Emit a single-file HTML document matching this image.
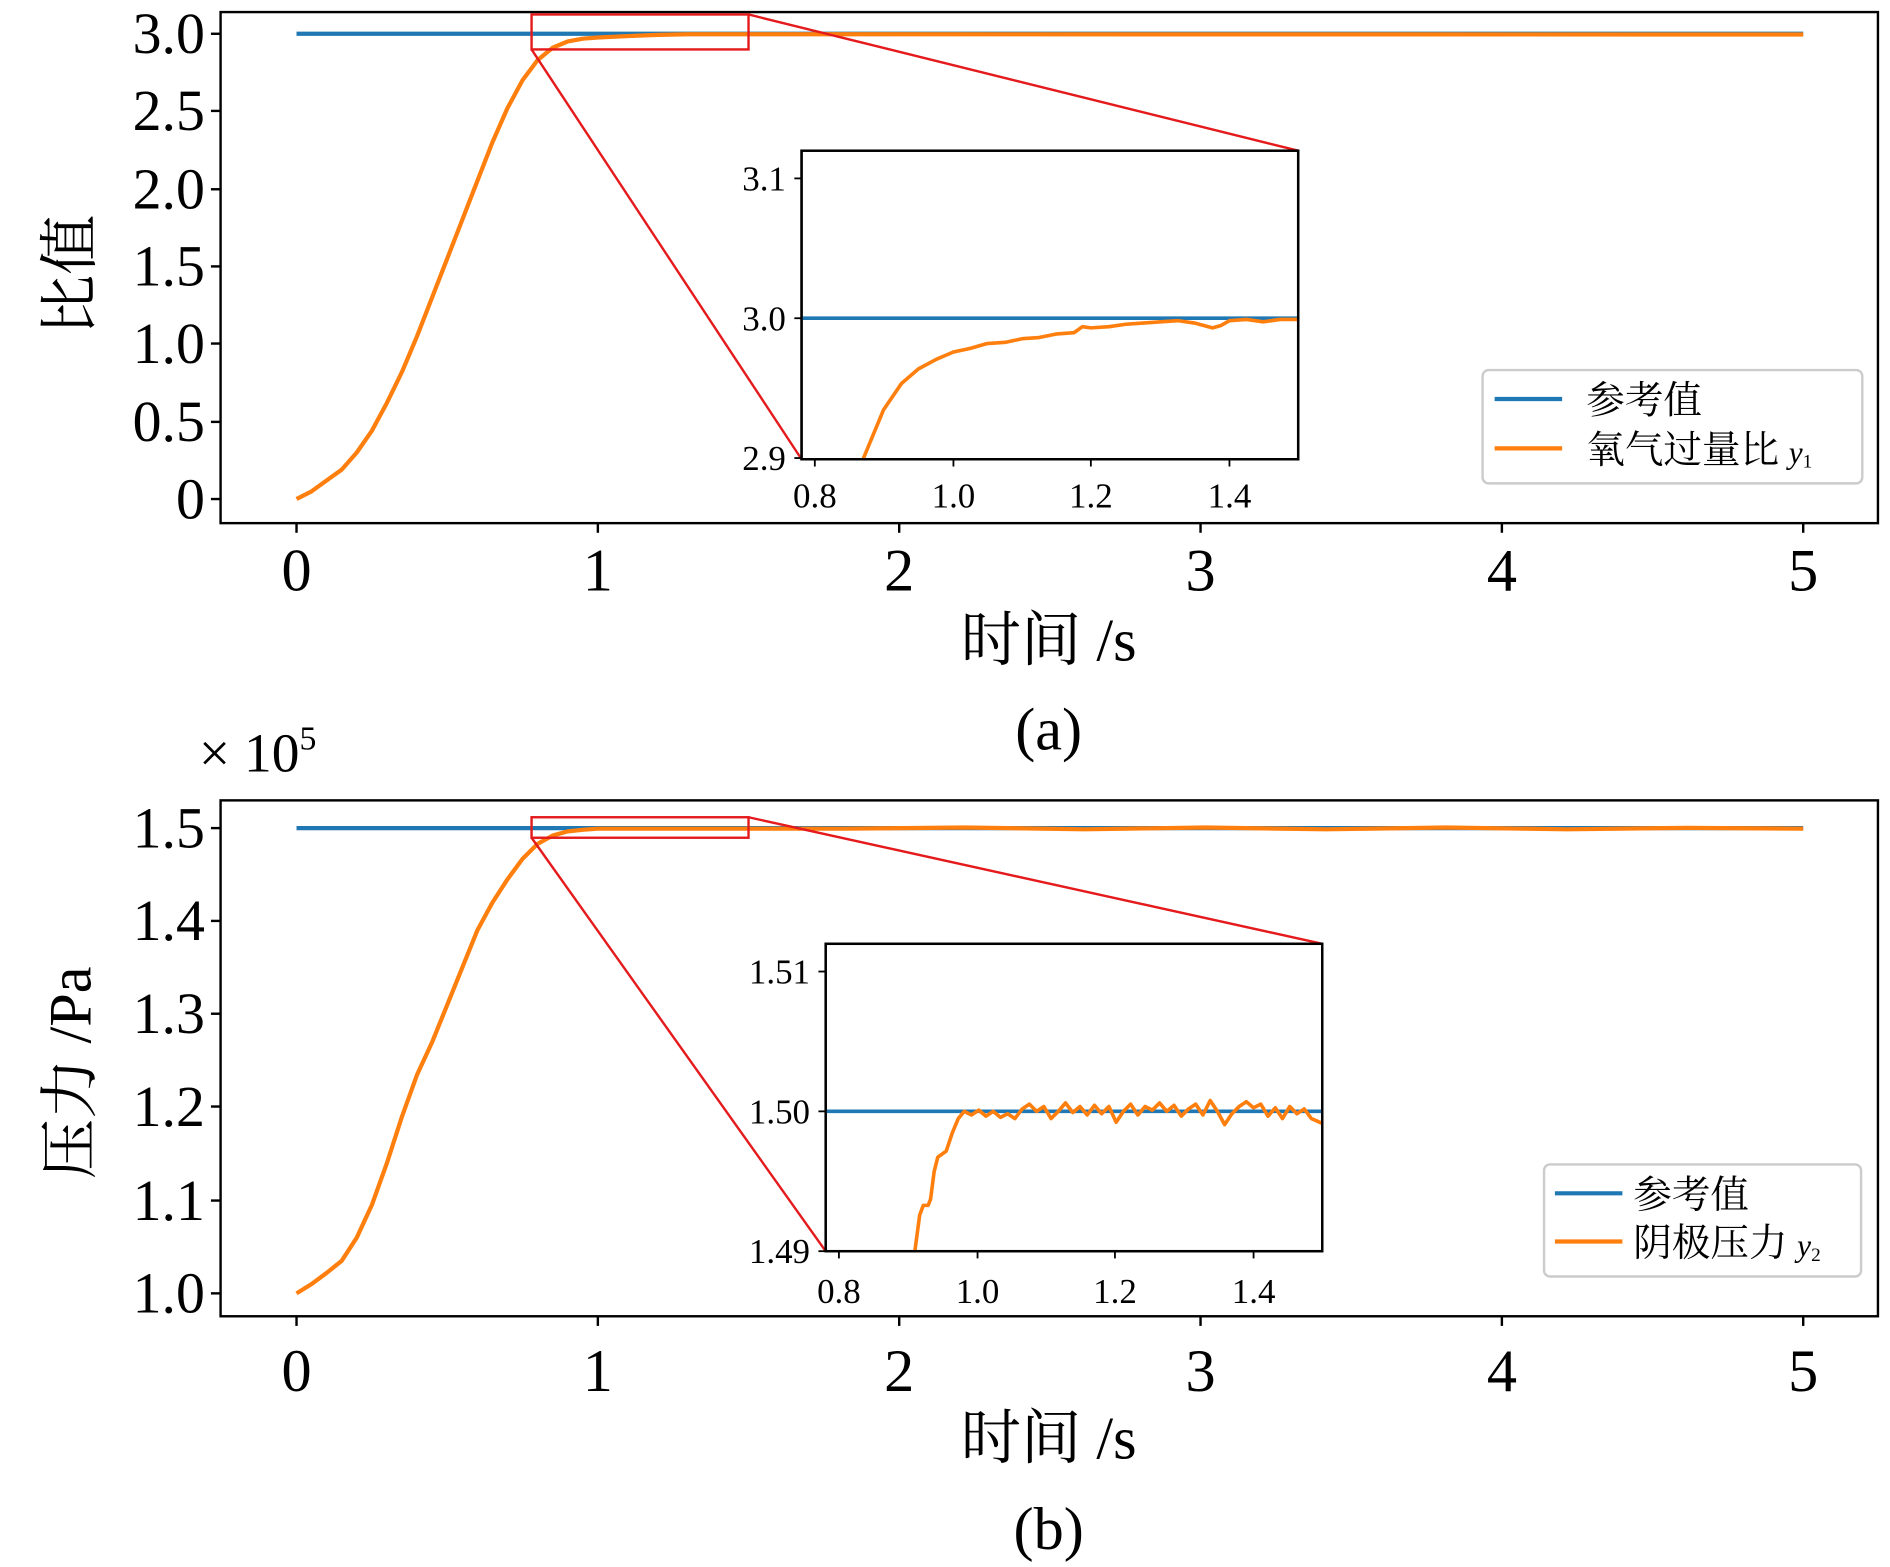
<!DOCTYPE html>
<html><head><meta charset="utf-8"><style>
html,body{margin:0;padding:0;background:#fff;}
svg{display:block;}
text{font-family:"Liberation Serif","Noto Serif CJK SC",serif;fill:#000;}
</style></head><body>
<svg width="1890" height="1567" viewBox="0 0 1568 1300" xmlns="http://www.w3.org/2000/svg">
<rect width="1568" height="1300" fill="#fff"/>
<!-- TOP PANEL -->
<line x1="246" y1="28" x2="1496" y2="28" stroke="#1f77b4" stroke-width="3.5"/>
<path fill="none" stroke="#ff7f0e" stroke-width="3.5" stroke-linejoin="round" d="M246,414 L258.5,407.6 L271,398.6 L283.5,389.6 L296,375.4 L308.5,357.4 L321,334.2 L333.5,308.5 L346,278.9 L358.5,246.7 L371,214.6 L383.5,182.4 L396,150.2 L408.5,118.1 L421,89.7 L433.5,66.6 L446,49.9 L458.5,39.6 L471,34.4 L483.5,32.1 L496,31.1 L521,29.9 L546,28.9 L571,28.4 L1496,28.6"/>
<rect x="183" y="10" width="1375" height="424" fill="none" stroke="#000" stroke-width="2"/>
<rect x="441" y="12" width="180" height="29" fill="none" stroke="#e41a1c" stroke-width="2"/>
<line x1="441" y1="41" x2="665" y2="381" stroke="#e41a1c" stroke-width="2"/>
<line x1="621" y1="12" x2="1077" y2="125" stroke="#e41a1c" stroke-width="2"/>
<g font-size="48" text-anchor="end">
<text x="170" y="44">3.0</text><text x="170" y="108">2.5</text><text x="170" y="173">2.0</text>
<text x="170" y="237">1.5</text><text x="170" y="301">1.0</text><text x="170" y="366">0.5</text><text x="170" y="430">0</text>
</g>
<g stroke="#000" stroke-width="2">
<line x1="175" y1="28" x2="183" y2="28"/><line x1="175" y1="92" x2="183" y2="92"/><line x1="175" y1="157" x2="183" y2="157"/>
<line x1="175" y1="221" x2="183" y2="221"/><line x1="175" y1="285" x2="183" y2="285"/><line x1="175" y1="350" x2="183" y2="350"/><line x1="175" y1="414" x2="183" y2="414"/>
<line x1="246" y1="434" x2="246" y2="442"/><line x1="496" y1="434" x2="496" y2="442"/><line x1="746" y1="434" x2="746" y2="442"/>
<line x1="996" y1="434" x2="996" y2="442"/><line x1="1246" y1="434" x2="1246" y2="442"/><line x1="1496" y1="434" x2="1496" y2="442"/>
</g>
<g font-size="50" text-anchor="middle">
<text x="246" y="490">0</text><text x="496" y="490">1</text><text x="746" y="490">2</text><text x="996" y="490">3</text><text x="1246" y="490">4</text><text x="1496" y="490">5</text>
</g>
<text x="870" y="548" font-size="50" text-anchor="middle">时间 /s</text>
<text x="870" y="622" font-size="50" text-anchor="middle">(a)</text>
<text transform="translate(75,228) rotate(-90)" font-size="50" text-anchor="middle">比值</text>
<!-- inset top -->
<rect x="665" y="125" width="412" height="256" fill="#fff" stroke="#000" stroke-width="2"/>
<line x1="665" y1="264" x2="1077" y2="264" stroke="#1f77b4" stroke-width="3"/>
<path fill="none" stroke="#ff7f0e" stroke-width="3" stroke-linejoin="round" d="M716,381 L733,340 L748,318 L762,306 L777,298 L791,292 L805,289 L819,285 L834,284 L848,281 L862,280 L877,277 L891,276 L898,271 L905,272 L920,271 L934,269 L948,268 L963,267 L977,266 L991,268 L1006,272 L1013,270 L1020,266 L1034,265 L1048,267 L1062,265 L1077,265"/>
<rect x="665" y="125" width="412" height="256" fill="none" stroke="#000" stroke-width="2"/>
<g stroke="#000" stroke-width="1.5">
<line x1="659" y1="148" x2="665" y2="148"/><line x1="659" y1="264" x2="665" y2="264"/><line x1="659" y1="380" x2="665" y2="380"/>
<line x1="676" y1="381" x2="676" y2="387"/><line x1="791" y1="381" x2="791" y2="387"/><line x1="905" y1="381" x2="905" y2="387"/><line x1="1020" y1="381" x2="1020" y2="387"/>
</g>
<g font-size="29" text-anchor="end"><text x="652" y="158">3.1</text><text x="652" y="274">3.0</text><text x="652" y="390">2.9</text></g>
<g font-size="29" text-anchor="middle"><text x="676" y="421">0.8</text><text x="791" y="421">1.0</text><text x="905" y="421">1.2</text><text x="1020" y="421">1.4</text></g>
<rect x="1230" y="307" width="315" height="94" rx="5" fill="#fff" stroke="#ccc" stroke-width="2"/>
<line x1="1240" y1="331" x2="1296" y2="331" stroke="#1f77b4" stroke-width="3.5"/>
<line x1="1240" y1="372" x2="1296" y2="372" stroke="#ff7f0e" stroke-width="3.5"/>
<text x="1316" y="343" font-size="32">参考值</text>
<text x="1316" y="384" font-size="32">氧气过量比 <tspan font-style="italic" font-size="26">y</tspan><tspan font-size="16" dy="4">1</tspan></text>
<!-- BOTTOM PANEL -->
<line x1="246" y1="687" x2="1496" y2="687" stroke="#1f77b4" stroke-width="3.5"/>
<path fill="none" stroke="#ff7f0e" stroke-width="3.5" stroke-linejoin="round" d="M246,1073 L258.5,1065.3 L271,1056 L283.5,1046 L296,1026.7 L308.5,999.7 L321,964.9 L333.5,926.3 L346,891.6 L358.5,864.6 L371,833.7 L383.5,802.8 L396,771.9 L408.5,748.8 L421,729.5 L433.5,712.5 L446,700.1 L458.5,693.2 L471,689.7 L483.5,688.4 L496,687.5 L700,687.5 L800,686.5 L900,688 L1000,686.5 L1100,688 L1200,686.5 L1300,688 L1400,686.8 L1496,687.5"/>
<rect x="183" y="664" width="1375" height="428" fill="none" stroke="#000" stroke-width="2"/>
<rect x="441" y="678" width="180" height="17" fill="none" stroke="#e41a1c" stroke-width="2"/>
<line x1="441" y1="695" x2="685" y2="1038" stroke="#e41a1c" stroke-width="2"/>
<line x1="621" y1="678" x2="1097" y2="783" stroke="#e41a1c" stroke-width="2"/>
<text x="165" y="640" font-size="46">× 10<tspan font-size="28" dy="-18">5</tspan></text>
<g font-size="48" text-anchor="end">
<text x="170" y="703">1.5</text><text x="170" y="780">1.4</text><text x="170" y="857">1.3</text><text x="170" y="934">1.2</text>
<text x="170" y="1012">1.1</text><text x="170" y="1089">1.0</text>
</g>
<g stroke="#000" stroke-width="2">
<line x1="175" y1="687" x2="183" y2="687"/><line x1="175" y1="764" x2="183" y2="764"/><line x1="175" y1="841" x2="183" y2="841"/>
<line x1="175" y1="918" x2="183" y2="918"/><line x1="175" y1="996" x2="183" y2="996"/><line x1="175" y1="1073" x2="183" y2="1073"/>
<line x1="246" y1="1092" x2="246" y2="1100"/><line x1="496" y1="1092" x2="496" y2="1100"/><line x1="746" y1="1092" x2="746" y2="1100"/>
<line x1="996" y1="1092" x2="996" y2="1100"/><line x1="1246" y1="1092" x2="1246" y2="1100"/><line x1="1496" y1="1092" x2="1496" y2="1100"/>
</g>
<g font-size="50" text-anchor="middle">
<text x="246" y="1154">0</text><text x="496" y="1154">1</text><text x="746" y="1154">2</text><text x="996" y="1154">3</text><text x="1246" y="1154">4</text><text x="1496" y="1154">5</text>
</g>
<text x="870" y="1210" font-size="50" text-anchor="middle">时间 /s</text>
<text x="870" y="1285" font-size="50" text-anchor="middle">(b)</text>
<text transform="translate(75,890) rotate(-90)" font-size="50" text-anchor="middle">压力 /Pa</text>
<rect x="685" y="783" width="412" height="255" fill="#fff" stroke="#000" stroke-width="2"/>
<line x1="685" y1="922" x2="1097" y2="922" stroke="#1f77b4" stroke-width="3"/>
<path fill="none" stroke="#ff7f0e" stroke-width="3" stroke-linejoin="round" d="M759,1038 L763,1008 L766,1000 L770,1000 L772,995 L775,972 L778,960 L785,955 L790,940 L795,928 L800,922 L806,925 L812,921 L818,926 L824,922 L830,927 L836,924 L842,928 L848,920 L854,916 L860,922 L866,918 L872,928 L878,922 L884,915 L890,923 L896,918 L902,925 L908,917 L914,924 L920,918 L926,931 L932,922 L938,916 L944,925 L950,918 L956,921 L962,915 L968,922 L974,917 L980,926 L986,920 L992,916 L998,925 L1004,913 L1010,922 L1016,933 L1022,924 L1028,918 L1034,914 L1040,919 L1046,916 L1052,926 L1058,919 L1064,928 L1070,918 L1076,924 L1082,920 L1088,928 L1097,932"/>
<rect x="685" y="783" width="412" height="255" fill="none" stroke="#000" stroke-width="2"/>
<g stroke="#000" stroke-width="1.5">
<line x1="679" y1="806" x2="685" y2="806"/><line x1="679" y1="922" x2="685" y2="922"/><line x1="679" y1="1038" x2="685" y2="1038"/>
<line x1="696" y1="1038" x2="696" y2="1044"/><line x1="811" y1="1038" x2="811" y2="1044"/><line x1="925" y1="1038" x2="925" y2="1044"/><line x1="1040" y1="1038" x2="1040" y2="1044"/>
</g>
<g font-size="29" text-anchor="end"><text x="672" y="816">1.51</text><text x="672" y="932">1.50</text><text x="672" y="1048">1.49</text></g>
<g font-size="29" text-anchor="middle"><text x="696" y="1081">0.8</text><text x="811" y="1081">1.0</text><text x="925" y="1081">1.2</text><text x="1040" y="1081">1.4</text></g>
<rect x="1281" y="966" width="263" height="93" rx="5" fill="#fff" stroke="#ccc" stroke-width="2"/>
<line x1="1290" y1="990" x2="1346" y2="990" stroke="#1f77b4" stroke-width="3.5"/>
<line x1="1290" y1="1030" x2="1346" y2="1030" stroke="#ff7f0e" stroke-width="3.5"/>
<text x="1355" y="1002" font-size="32">参考值</text>
<text x="1355" y="1042" font-size="32">阴极压力 <tspan font-style="italic" font-size="26">y</tspan><tspan font-size="16" dy="4">2</tspan></text>
</svg>
</body></html>
